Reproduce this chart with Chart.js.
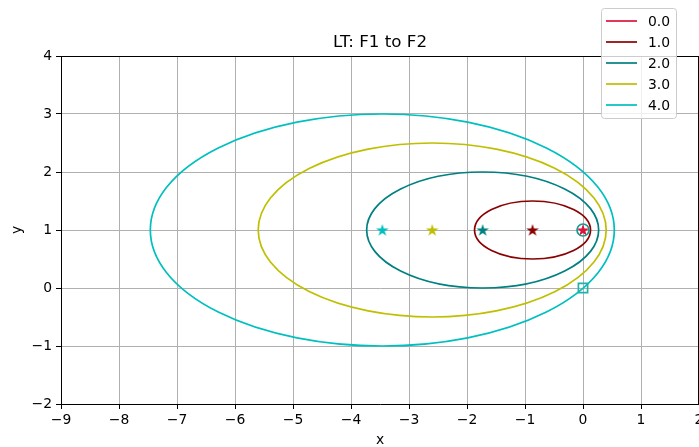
<!DOCTYPE html>
<html>
<head>
<meta charset="utf-8">
<script src="https://cdn.jsdelivr.net/npm/chart.js@4"></script>
<style>
  body { margin: 0; background: #fff; }
  canvas { display: block; }
</style>
</head>
<body>
<canvas id="lt" width="699" height="447"></canvas>
<script>
// one ellipse per level
const levels = ['0.0', '1.0', '2.0', '3.0', '4.0'];
const centerX = [0, -0.87, -1.73, -2.6, -3.46];
const centerY = [1, 1, 1, 1, 1];
const semiX = [0, 1, 2, 3, 4];
const semiY = [0, 0.5, 1, 1.5, 2];
const colors = ['#dc143c', '#8b0000', '#008080', '#bfbf00', '#00bfbf'];

const startPoint = [0, 1];   // open circle
const endPoint = [0, 0];     // open square

const xTicks = [-9, -8, -7, -6, -5, -4, -3, -2, -1, 0, 1, 2];
const yTicks = [-2, -1, 0, 1, 2, 3, 4];

const FONT = 'DejaVu Sans';
Chart.defaults.font.family = FONT;
Chart.defaults.font.size = 13.9;
Chart.defaults.color = '#000';

function starImage(color, r) {
  const c = document.createElement('canvas');
  const s = Math.ceil(r * 2 + 2);
  c.width = c.height = s;
  const g = c.getContext('2d');
  g.translate(s / 2, s / 2 + 0.5);
  g.beginPath();
  for (let i = 0; i < 10; i++) {
    const rad = i % 2 ? r * 0.382 : r;
    const a = -Math.PI / 2 + i * Math.PI / 5;
    g.lineTo(rad * Math.cos(a), rad * Math.sin(a));
  }
  g.closePath();
  g.fillStyle = color;
  g.fill();
  return c;
}

const minus = v => String(v).replace('-', '\u2212');

const datasets = [
  {
    data: [{ x: startPoint[0], y: startPoint[1] }],
    pointStyle: 'circle',
    pointRadius: 6,
    borderColor: '#1a9990',
    backgroundColor: 'rgba(0,0,0,0)',
    pointBorderWidth: 1.7
  },
  {
    data: [{ x: endPoint[0], y: endPoint[1] }],
    pointStyle: 'rect',
    pointRadius: 6.5,
    borderColor: '#20b2aa',
    backgroundColor: 'rgba(0,0,0,0)',
    pointBorderWidth: 1.7
  }
];
// stars at ellipse centres, last level first so 0.0 ends on top
for (let i = levels.length - 1; i >= 0; i--) {
  datasets.push({
    label: levels[i],
    data: [{ x: centerX[i], y: centerY[i] }],
    pointStyle: starImage(colors[i], 6.6),
    borderColor: colors[i],
    backgroundColor: colors[i]
  });
}

const ellipses = {
  id: 'ellipses',
  beforeDatasetsDraw(chart) {
    const { ctx, chartArea, scales } = chart;
    const xs = scales.x, ys = scales.y;
    ctx.save();
    ctx.beginPath();
    ctx.rect(chartArea.left, chartArea.top, chartArea.right - chartArea.left, chartArea.bottom - chartArea.top);
    ctx.clip();
    ctx.lineWidth = 1.7;
    for (let i = 0; i < levels.length; i++) {
      if (semiX[i] <= 0) continue;
      const cx = xs.getPixelForValue(centerX[i]);
      const cy = ys.getPixelForValue(centerY[i]);
      const rx = Math.abs(xs.getPixelForValue(centerX[i] + semiX[i]) - cx);
      const ry = Math.abs(ys.getPixelForValue(centerY[i] + semiY[i]) - cy);
      ctx.beginPath();
      ctx.ellipse(cx, cy, rx, ry, 0, 0, Math.PI * 2);
      ctx.strokeStyle = colors[i];
      ctx.stroke();
    }
    ctx.restore();
  }
};

const decor = {
  id: 'decor',
  afterDraw(chart) {
    const { ctx, chartArea } = chart;
    ctx.save();
    // top and right spines
    ctx.strokeStyle = '#000';
    ctx.lineWidth = 1;
    ctx.beginPath();
    ctx.moveTo(chartArea.left, chartArea.top + 0.5);
    ctx.lineTo(chartArea.right, chartArea.top + 0.5);
    ctx.moveTo(chartArea.right - 0.5, chartArea.top);
    ctx.lineTo(chartArea.right - 0.5, chartArea.bottom);
    ctx.stroke();

    // title and axis labels
    ctx.fillStyle = '#000';
    ctx.textAlign = 'center';
    ctx.textBaseline = 'alphabetic';
    ctx.font = '16.7px ' + FONT;
    ctx.fillText('LT: F1 to F2', (chartArea.left + chartArea.right) / 2, 47);
    ctx.font = '13.9px ' + FONT;
    ctx.fillText('x', (chartArea.left + chartArea.right) / 2, 444);
    ctx.translate(21, (chartArea.top + chartArea.bottom) / 2);
    ctx.rotate(-Math.PI / 2);
    ctx.fillText('y', 0, 0);
    ctx.setTransform(1, 0, 0, 1, 0, 0);

    // legend
    const bx = 601.5, by = 8.5, bw = 75, bh = 110;
    ctx.beginPath();
    ctx.roundRect(bx, by, bw, bh, 3);
    ctx.fillStyle = 'rgba(255,255,255,0.8)';
    ctx.fill();
    ctx.strokeStyle = '#cccccc';
    ctx.stroke();
    ctx.font = '13.9px ' + FONT;
    ctx.textAlign = 'left';
    ctx.textBaseline = 'middle';
    for (let i = 0; i < levels.length; i++) {
      const ry = 21 + i * 21;
      ctx.beginPath();
      ctx.moveTo(606, ry);
      ctx.lineTo(637, ry);
      ctx.strokeStyle = colors[i];
      ctx.lineWidth = 1.7;
      ctx.stroke();
      ctx.fillStyle = '#000';
      ctx.fillText(levels[i], 648, ry + 1);
    }
    ctx.restore();
  }
};

new Chart(document.getElementById('lt'), {
  type: 'scatter',
  data: { datasets },
  options: {
    responsive: false,
    animation: false,
    layout: { autoPadding: false, padding: { top: 56, left: 0, right: 0, bottom: 0 } },
    plugins: { legend: { display: false }, title: { display: false }, tooltip: { enabled: false } },
    scales: {
      x: {
        type: 'linear',
        min: xTicks[0],
        max: xTicks[xTicks.length - 1],
        afterBuildTicks: s => { s.ticks = xTicks.map(v => ({ value: v })); },
        afterFit: s => { s.height = 43; s.paddingLeft = 0; s.paddingRight = 0; },
        ticks: { callback: minus, padding: 3, maxRotation: 0, autoSkip: false },
        grid: { color: '#b0b0b0', lineWidth: 1, tickLength: 5, tickColor: '#000' },
        border: { color: '#000', width: 1 }
      },
      y: {
        type: 'linear',
        min: yTicks[0],
        max: yTicks[yTicks.length - 1],
        afterBuildTicks: s => { s.ticks = yTicks.map(v => ({ value: v })); },
        afterFit: s => { s.width = 61; s.paddingTop = 0; s.paddingBottom = 0; },
        ticks: { callback: minus, padding: 4, autoSkip: false },
        grid: { color: '#b0b0b0', lineWidth: 1, tickLength: 5, tickColor: '#000' },
        border: { color: '#000', width: 1 }
      }
    }
  },
  plugins: [ellipses, decor]
});
</script>
</body>
</html>
